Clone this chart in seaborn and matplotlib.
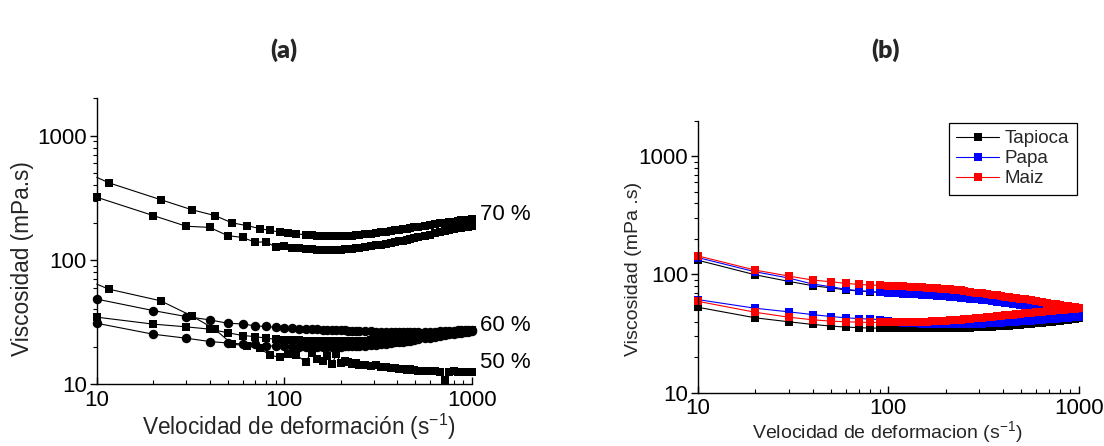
import numpy as np
import pandas as pd
import matplotlib
matplotlib.use("Agg")
import matplotlib.pyplot as plt
import seaborn as sns
from matplotlib.ticker import FixedLocator, LogLocator, NullFormatter, FuncFormatter
from matplotlib.lines import Line2D

# ---------------- data: panel (a) ----------------
# shear-rate grid (s^-1)
XA = [10, 20, 30, 40, 50, 60, 70, 80, 90, 100,
      110, 120, 130, 140, 150, 160, 170, 180, 190, 200, 210, 220, 230, 240, 250,
      270, 290, 310, 330, 350, 370, 390, 410, 430, 450, 470, 490,
      520, 560, 600, 640, 680, 720, 760, 800, 840, 880, 920, 960, 1000]
# second sweep grid (first value = start of the line, no marker)
XB_HEAD = [10, 11.6, 21.9, 32.1, 42.6, 52.7, 63.4, 74.1, 83.7, 94.6, 105, 116]
XB = XB_HEAD + XA[12:]

A70_UP = [463, 418, 306, 254, 228, 199, 189, 179, 173, 168, 165, 162,
          160, 158, 157, 156, 155, 155, 155, 155, 156, 156, 157, 158, 159,
          161, 163, 165, 167, 169, 171, 173, 175, 177, 179, 181, 183,
          186, 189, 192, 195, 198, 200, 202, 204, 206, 208, 209, 211, 212]
A70_LO = [320, 228, 187, 183, 157, 152, 139, 140, 127, 130,
          126, 124, 123, 122, 121, 121, 120, 120, 121, 121, 122, 122, 123, 124, 125,
          127, 129, 131, 133, 135, 137, 139, 141, 143, 145, 147, 149,
          152, 156, 160, 164, 168, 171, 174, 177, 180, 182, 184, 186, 188]
A60_C1 = [48.5, 39.2, 35.1, 33.0, 31.0, 30.6, 29.5, 29.2, 28.7, 28.4,
          28.2, 28.0, 27.9, 27.8, 27.7, 27.6, 27.5, 27.4, 27.3, 27.2, 27.1, 27.0, 27.0, 26.9, 26.9,
          26.8, 26.7, 26.6, 26.5, 26.5, 26.4, 26.4, 26.3, 26.3, 26.3, 26.3, 26.3,
          26.3, 26.4, 26.5, 26.6, 26.7, 26.8, 26.9, 27.0, 27.1, 27.2, 27.3, 27.4, 27.5]
A60_C2 = [31.0, 25.3, 23.5, 22.1, 21.5, 21.1, 21.1, 20.5, 20.3, 20.2,
          20.1, 20.0, 20.0, 20.0, 20.0, 20.0, 20.0, 20.0, 20.1, 20.1, 20.2, 20.2, 20.3, 20.3, 20.4,
          20.5, 20.7, 20.9, 21.1, 21.3, 21.5, 21.7, 21.9, 22.1, 22.3, 22.5, 22.7,
          23.0, 23.4, 23.8, 24.2, 24.6, 24.9, 25.2, 25.5, 25.8, 26.1, 26.3, 26.5, 26.7]
A50_S2 = [34.7, 30.5, 29.0, 27.8, 26.0, 24.7, 24.2, 23.5, 23.0, 22.8,
          22.8, 22.6, 22.5, 22.4, 22.3, 22.3, 22.2, 22.2, 22.2, 22.2, 22.2, 22.3, 22.3, 22.4, 22.4,
          22.5, 22.7, 22.9, 23.0, 23.2, 23.4, 23.5, 23.7, 23.9, 24.0, 24.2, 24.4,
          24.6, 24.9, 25.2, 25.5, 25.7, 26.0, 26.2, 26.4, 26.6, 26.8, 27.0, 27.1, 27.3]
A50_S1 = [64, 58.3, 47.0, 35.5, 27.8, 21.1, 20.3, 19.5, 17.2, 16.5, 17.5, 17.2,
          15.2, 18.0, 16.0, 15.5, 16.8, 14.6, 17.5, 14.8, 15.5, 15.0, 14.6, 14.9, 14.4,
          14.3, 14.0, 14.2, 13.7, 13.9, 13.5, 13.6, 13.3, 13.4, 13.1, 13.2, 13.0,
          12.9, 12.8, 12.7, 12.8, 12.6, 10.8, 12.6, 12.7, 12.5, 12.6, 12.5, 12.6, 12.5]
A_LABELS = ["70 %", "60 %", "50 %"]
A_LABEL_Y = [232, 30, 14.9]

# ---------------- data: panel (b) ----------------
XS = [10, 20, 30, 40, 50, 60, 70, 80, 90, 100,
      110, 120, 130, 140, 150, 160, 170, 180, 190, 200, 210, 220, 230, 240, 250,
      270, 290, 310, 330, 350, 370, 390, 410, 430, 450, 470, 490,
      520, 560, 600, 640, 680, 720, 760, 800, 840, 880, 920, 960, 1000]
NAMES = ["Tapioca", "Papa", "Maiz"]
COLORS = ["#000000", "#0000ff", "#ff0000"]

TAP_HI = [132, 99.4, 87.4, 80.4, 77.0, 74.0, 72.5, 71.5, 70.5, 70.0,
          70.0, 69.8, 69.5, 69.2, 68.9, 68.6, 68.3, 68.0, 67.7, 67.4, 67.1, 66.8, 66.5, 66.2, 65.9,
          65.2, 64.5, 63.8, 63.1, 62.4, 61.8, 61.2, 60.6, 60.0, 59.4, 58.8, 58.3,
          57.5, 56.5, 55.6, 54.8, 54.0, 53.3, 52.7, 52.1, 51.6, 51.1, 50.6, 50.2, 49.8]
TAP_LO = [52.8, 43.0, 39.8, 37.8, 36.6, 35.9, 35.5, 35.2, 35.2, 35.1,
          35.0, 35.0, 35.0, 35.0, 35.0, 35.0, 35.0, 35.0, 35.1, 35.1, 35.2, 35.2, 35.3, 35.3, 35.4,
          35.5, 35.7, 35.8, 36.0, 36.2, 36.4, 36.6, 36.8, 37.0, 37.2, 37.4, 37.6,
          37.9, 38.3, 38.7, 39.1, 39.5, 39.9, 40.3, 40.7, 41.1, 41.5, 41.9, 42.3, 42.7]
PAP_HI = [139, 105.4, 93.3, 83.0, 78.8, 74.8, 73.0, 72.0, 70.6, 70.0,
          69.5, 69.0, 68.5, 68.0, 67.5, 67.0, 66.6, 66.2, 65.8, 65.4, 65.0, 64.6, 64.2, 63.8, 63.4,
          62.6, 61.8, 61.0, 60.3, 59.6, 58.9, 58.2, 57.6, 57.0, 56.4, 55.8, 55.2,
          54.4, 53.4, 52.5, 51.7, 51.0, 50.3, 49.7, 49.2, 48.7, 48.2, 47.8, 47.4, 47.0]
PAP_LO = [61.3, 51.8, 48.3, 45.8, 44.1, 43.0, 42.4, 41.9, 41.6, 40.5,
          39.8, 39.2, 38.8, 38.5, 38.3, 38.1, 38.0, 37.9, 37.8, 37.8, 37.8, 37.8, 37.8, 37.9, 37.9,
          38.0, 38.2, 38.3, 38.5, 38.7, 38.9, 39.1, 39.3, 39.5, 39.7, 39.9, 40.1,
          40.4, 40.8, 41.2, 41.5, 41.8, 42.1, 42.4, 42.7, 42.9, 43.1, 43.3, 43.5, 43.7]
MAI_HI = [143.6, 108.9, 97.0, 89.7, 86.8, 84.0, 82.4, 81.5, 80.8, 80.5,
          80.0, 79.5, 79.0, 78.5, 78.0, 77.5, 77.0, 76.5, 76.0, 75.5, 75.0, 74.5, 74.0, 73.5, 73.0,
          71.5, 70.3, 69.2, 68.2, 67.3, 66.5, 65.7, 65.0, 64.3, 63.6, 63.0, 62.4,
          61.5, 60.4, 59.4, 58.5, 57.6, 56.8, 56.0, 55.3, 54.6, 54.0, 53.4, 52.8, 52.3]
MAI_LO = [59.3, 47.9, 43.5, 41.4, 40.3, 39.8, 39.5, 39.3, 39.3, 39.3,
          39.4, 39.5, 39.6, 39.7, 39.8, 40.0, 40.2, 40.4, 40.6, 40.8, 41.0, 41.2, 41.4, 41.6, 41.8,
          42.2, 42.6, 43.0, 43.4, 43.8, 44.2, 44.6, 45.0, 45.4, 45.8, 46.1, 46.4,
          46.9, 47.5, 48.0, 48.5, 49.0, 49.4, 49.8, 50.2, 50.5, 50.8, 51.1, 51.4, 51.7]
B_SERIES = [(TAP_HI, TAP_LO), (PAP_HI, PAP_LO), (MAI_HI, MAI_LO)]

TICKS = [10, 100, 1000]

# ---------------- style ----------------
sns.set_theme(style="ticks")
plt.rcParams["font.family"] = ["Liberation Sans", "DejaVu Sans"]
plt.rcParams["mathtext.fontset"] = "custom"
plt.rcParams["mathtext.rm"] = "Liberation Sans"
plt.rcParams["mathtext.default"] = "regular"
plt.rcParams["axes.edgecolor"] = "black"
plt.rcParams["xtick.color"] = "black"
plt.rcParams["ytick.color"] = "black"

fig = plt.figure(figsize=(11.04, 4.46), dpi=100)
axA = fig.add_axes([0.0876, 0.1383, 0.3397, 0.6413])
axB = fig.add_axes([0.6322, 0.1195, 0.3449, 0.6099])


def series(ax, x, y, color, marker, ms, skip_first=False):
    sns.lineplot(x=x, y=y, ax=ax, color=color, marker=marker, markersize=ms,
                 markeredgewidth=0, linewidth=0.8, estimator=None, sort=False,
                 markevery=(slice(1, None) if skip_first else None), clip_on=False)


# panel (a)
MS_SQ_A, MS_CI_A = 6.2, 6.8
series(axA, XB, A70_UP, "black", "s", MS_SQ_A, skip_first=True)
series(axA, XA, A70_LO, "black", "s", MS_SQ_A)
series(axA, XA, A60_C1, "black", "o", MS_CI_A)
series(axA, XA, A60_C2, "black", "o", MS_CI_A)
series(axA, XA, A50_S2, "black", "s", MS_SQ_A)
series(axA, XB, A50_S1, "black", "s", MS_SQ_A, skip_first=True)
for lab, yv in zip(A_LABELS, A_LABEL_Y):
    axA.annotate(lab, xy=(1000, yv), xytext=(6, 0), textcoords="offset points",
                 ha="left", va="center", fontsize=16, color="black", annotation_clip=False)

# panel (b)
MS_B = 6.0
for (hi, lo), col in zip(B_SERIES, COLORS):
    series(axB, XS, hi, col, "s", MS_B)
    series(axB, XS, lo, col, "s", MS_B)

handles = [Line2D([], [], color=c, marker="s", markersize=5.2, markeredgewidth=0, linewidth=0.8)
           for c in COLORS]
leg = axB.legend(handles, NAMES, loc="upper right", bbox_to_anchor=(1.0, 1.0),
                 borderaxespad=0.1, frameon=True, fancybox=False, edgecolor="black",
                 fontsize=13.5, handlelength=2.3, handletextpad=0.3, labelspacing=0.15,
                 borderpad=0.4)
leg.get_frame().set_linewidth(0.9)
leg.get_frame().set_facecolor("white")
leg.get_frame().set_alpha(1)

fmt = FuncFormatter(lambda v, p: f"{v:g}")
for ax in (axA, axB):
    ax.set_xscale("log")
    ax.set_yscale("log")
    ax.set_xlim(10, 1000)
    ax.set_ylim(10, 2000)
    ax.xaxis.set_major_locator(FixedLocator(TICKS))
    ax.yaxis.set_major_locator(FixedLocator(TICKS))
    ax.xaxis.set_minor_locator(LogLocator(base=10, subs=np.arange(2, 10)))
    ax.yaxis.set_minor_locator(LogLocator(base=10, subs=np.arange(2, 10)))
    ax.xaxis.set_major_formatter(fmt)
    ax.yaxis.set_major_formatter(fmt)
    ax.xaxis.set_minor_formatter(NullFormatter())
    ax.yaxis.set_minor_formatter(NullFormatter())
    ax.tick_params(axis="x", which="major", direction="in", length=5, width=1, labelsize=16, pad=4)
    ax.tick_params(axis="x", which="minor", direction="in", length=3, width=0.8)
    ax.tick_params(axis="y", which="major", direction="out", length=5, width=1, labelsize=16, pad=2)
    ax.tick_params(axis="y", which="minor", direction="out", length=3, width=0.8)
    for s in ("left", "bottom"):
        ax.spines[s].set_linewidth(1.0)
        ax.spines[s].set_color("black")
    sns.despine(ax=ax)
    ax.set_facecolor("white")

axA.set_xlabel("Velocidad de deformación (s$^{-1}$)", fontsize=16.3)
axA.set_ylabel("Viscosidad (mPa.s)", fontsize=16.3)
axA.xaxis.set_label_coords(0.539, -0.095)
axA.yaxis.set_label_coords(-0.167, 0.44)

axB.set_xlabel("Velocidad de deformacion (s$^{-1}$)", fontsize=14)
axB.set_ylabel("Viscosidad (mPa .s)", fontsize=14)
axB.xaxis.set_label_coords(0.498, -0.098)
axB.yaxis.set_label_coords(-0.147, 0.455)

fig.text(284 / 1104, 1 - 50 / 446, "(a)", ha="center", va="center", fontsize=18,
         fontweight="heavy", family="Lato")
fig.text(886 / 1104, 1 - 50 / 446, "(b)", ha="center", va="center", fontsize=18,
         fontweight="heavy", family="Lato")

fig.savefig("out.png", dpi=100, facecolor="white")
